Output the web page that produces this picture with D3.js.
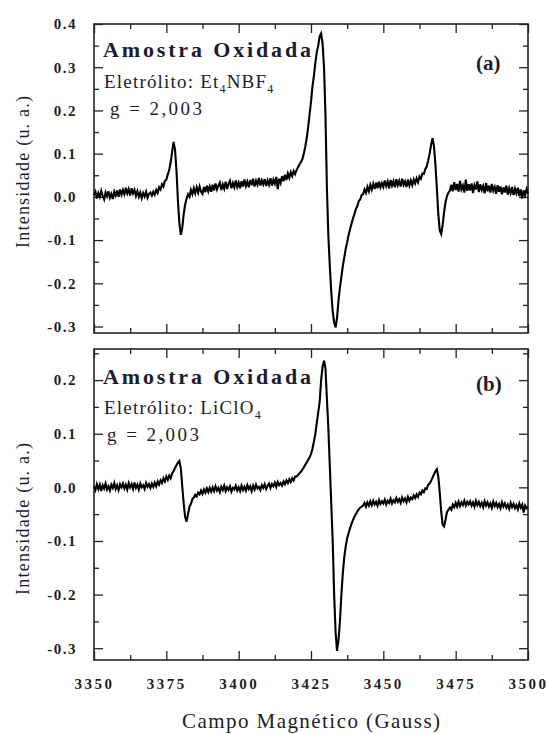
<!DOCTYPE html>
<html>
<head>
<meta charset="utf-8">
<script src="https://cdn.jsdelivr.net/npm/d3@7"></script>
<style>
  body { margin: 0; background: #fff; }
  svg { display: block; }
  svg text { font-family: "Liberation Serif", "Times New Roman", serif !important; fill: #1c1c2c; }
  .tick text { font-weight: bold; font-size: 15px; }
  .domain { display: none; }
  .tick line { stroke: #222; stroke-width: 1.3; }
</style>
</head>
<body>
<svg id="epr" width="547" height="734"></svg>
<script>
var svg = d3.select("#epr");
var left = 94, right = 528;

// Campo magnetico (G), passo de 0.5 G
var field = d3.range(3350, 3500.001, 0.5);

var xTicks = [3350, 3375, 3400, 3425, 3450, 3475, 3500];
var xMinorTicks = [3362.5, 3387.5, 3412.5, 3437.5, 3462.5, 3487.5];

var yTicksA = [-0.3, -0.2, -0.1, 0.0, 0.1, 0.2, 0.3, 0.4];
var yTicksB = [-0.3, -0.2, -0.1, 0.0, 0.1, 0.2];

// (a) Et4NBF4
var intensityA = [
  0.004, 0.012, -0.004, 0.009, 0.000, 0.014, 0.002, -0.006, 0.010, 0.001, 0.013, -0.002, 0.007, -0.005, 0.012, 0.003, 0.015, 0.000, 0.017, 0.005,
  0.016, 0.006, 0.021, 0.008, 0.018, 0.003, 0.020, 0.008, 0.016, 0.002, 0.013, 0.000, 0.010, -0.003, 0.009, 0.001, 0.012, -0.002, 0.007, 0.010,
  0.003, 0.012, 0.005, 0.016, 0.009, 0.022, 0.017, 0.029, 0.024, 0.037, 0.040, 0.052, 0.062, 0.080, 0.104, 0.127, 0.110, 0.062, -0.008, -0.060,
  -0.088, -0.072, -0.040, -0.018, -0.004, 0.006, 0.000, 0.016, 0.006, 0.020, 0.008, 0.022, 0.010, 0.024, 0.012, 0.007, 0.023, 0.011, 0.026, 0.013,
  0.024, 0.012, 0.028, 0.015, 0.031, 0.017, 0.026, 0.033, 0.016, 0.029, 0.019, 0.035, 0.018, 0.030, 0.037, 0.020, 0.032, 0.022, 0.038, 0.023,
  0.033, 0.020, 0.036, 0.024, 0.040, 0.025, 0.035, 0.022, 0.039, 0.027, 0.042, 0.024, 0.037, 0.028, 0.044, 0.026, 0.038, 0.029, 0.041, 0.025,
  0.038, 0.028, 0.043, 0.026, 0.040, 0.031, 0.046, 0.018, 0.042, 0.032, 0.048, 0.036, 0.051, 0.039, 0.054, 0.044, 0.057, 0.048, 0.060, 0.053,
  0.062, 0.068, 0.075, 0.080, 0.087, 0.100, 0.115, 0.135, 0.160, 0.190, 0.220, 0.255, 0.280, 0.310, 0.335, 0.350, 0.372, 0.378, 0.355, 0.300,
  0.190, 0.020, -0.090, -0.160, -0.220, -0.265, -0.290, -0.302, -0.280, -0.240, -0.210, -0.185, -0.160, -0.140, -0.120, -0.105, -0.088, -0.075, -0.062, -0.050,
  -0.040, -0.028, -0.022, -0.010, -0.006, 0.004, 0.006, 0.017, 0.009, 0.023, 0.013, 0.028, 0.017, 0.030, 0.018, 0.033, 0.020, 0.035, 0.022, 0.032,
  0.023, 0.038, 0.025, 0.035, 0.020, 0.039, 0.026, 0.036, 0.022, 0.041, 0.027, 0.037, 0.024, 0.042, 0.028, 0.036, 0.023, 0.040, 0.026, 0.038,
  0.027, 0.040, 0.031, 0.043, 0.034, 0.047, 0.042, 0.054, 0.053, 0.064, 0.070, 0.084, 0.100, 0.120, 0.136, 0.118, 0.075, 0.020, -0.040, -0.078,
  -0.086, -0.065, -0.035, -0.012, 0.002, 0.010, 0.014, 0.028, 0.013, 0.034, 0.016, 0.030, 0.012, 0.037, 0.017, 0.026, 0.010, 0.040, 0.014, 0.029,
  0.015, 0.031, 0.009, 0.027, 0.017, 0.036, 0.011, 0.029, 0.016, 0.025, 0.008, 0.032, 0.013, 0.026, 0.010, 0.030, 0.014, 0.023, 0.007, 0.027,
  0.012, 0.024, 0.006, 0.022, 0.010, 0.026, 0.005, 0.020, 0.009, 0.023, 0.004, 0.019, 0.008, 0.021, 0.002, 0.017, -0.004, 0.015, 0.004, 0.018, 0.008
];

// (b) LiClO4
var intensityB = [
  0.002, -0.005, 0.006, -0.003, 0.005, -0.007, 0.004, -0.002, 0.007, -0.004, 0.002, -0.006, 0.005, -0.001, 0.008, -0.003, 0.004, -0.005, 0.006, 0.000,
  0.007, -0.002, 0.005, -0.004, 0.008, 0.000, 0.006, -0.003, 0.009, -0.001, 0.005, -0.004, 0.007, 0.000, 0.004, -0.003, 0.008, 0.001, 0.006, -0.001,
  0.007, 0.001, 0.009, 0.002, 0.011, 0.005, 0.013, 0.008, 0.017, 0.011, 0.020, 0.014, 0.022, 0.017, 0.026, 0.030, 0.036, 0.041, 0.046, 0.049,
  0.036, 0.002, -0.030, -0.055, -0.064, -0.050, -0.036, -0.031, -0.022, -0.019, -0.014, -0.017, -0.010, -0.013, -0.006, -0.012, -0.004, -0.010, -0.002, -0.009,
  -0.001, -0.008, 0.000, -0.007, 0.002, -0.006, -0.001, -0.009, 0.001, -0.005, 0.003, -0.007, 0.000, -0.005, 0.002, -0.008, -0.001, -0.004, 0.003, -0.006,
  0.000, -0.007, 0.003, -0.005, 0.001, -0.006, 0.004, -0.003, 0.002, -0.007, 0.003, -0.004, 0.005, -0.002, 0.001, -0.005, 0.004, -0.001, 0.006, -0.003,
  0.003, 0.007, -0.001, 0.006, 0.002, 0.009, 0.001, 0.010, 0.004, 0.008, 0.003, 0.011, 0.006, 0.013, 0.008, 0.015, 0.010, 0.017, 0.013, 0.020,
  0.020, 0.023, 0.026, 0.029, 0.033, 0.037, 0.042, 0.046, 0.051, 0.056, 0.062, 0.072, 0.085, 0.100, 0.120, 0.140, 0.160, 0.200, 0.225, 0.236,
  0.222, 0.165, 0.110, 0.040, -0.030, -0.100, -0.200, -0.270, -0.305, -0.285, -0.250, -0.200, -0.160, -0.130, -0.110, -0.095, -0.085, -0.076, -0.068, -0.061,
  -0.055, -0.050, -0.045, -0.041, -0.038, -0.036, -0.034, -0.029, -0.036, -0.028, -0.034, -0.026, -0.033, -0.025, -0.032, -0.027, -0.034, -0.024, -0.031, -0.026,
  -0.030, -0.023, -0.032, -0.025, -0.029, -0.021, -0.030, -0.024, -0.028, -0.020, -0.027, -0.022, -0.029, -0.019, -0.026, -0.021, -0.028, -0.018, -0.025, -0.019,
  -0.022, -0.015, -0.020, -0.013, -0.018, -0.010, -0.013, -0.006, -0.009, -0.002, -0.003, 0.005, 0.007, 0.012, 0.018, 0.024, 0.030, 0.034, 0.020, -0.010,
  -0.045, -0.070, -0.073, -0.060, -0.046, -0.042, -0.038, -0.042, -0.032, -0.037, -0.029, -0.036, -0.027, -0.035, -0.028, -0.033, -0.025, -0.034, -0.027, -0.032,
  -0.026, -0.034, -0.028, -0.036, -0.025, -0.033, -0.027, -0.035, -0.029, -0.037, -0.026, -0.034, -0.028, -0.036, -0.030, -0.038, -0.027, -0.035, -0.029, -0.037,
  -0.031, -0.039, -0.028, -0.036, -0.030, -0.038, -0.032, -0.040, -0.029, -0.037, -0.031, -0.039, -0.033, -0.041, -0.030, -0.038, -0.032, -0.047, -0.034, -0.039, -0.036
];

var xScale = d3.scaleLinear().domain([3350, 3500]).range([left, right]);

function yMinor(ticks){
  var m = [];
  for(var i = 0; i < ticks.length - 1; i++){
    m.push((ticks[i] + ticks[i+1]) / 2);
  }
  return m;
}

function drawPanel(opts){
  var top = opts.top, bottom = opts.bottom;
  var yScale = d3.scaleLinear().domain(opts.domain).range([bottom, top]);
  var fmt = function(d){ return d.toFixed(1); };

  // y major, left (labels) and right
  svg.append("g")
    .attr("transform", "translate(" + left + ",0)")
    .call(d3.axisLeft(yScale).tickValues(opts.yTicks).tickSize(-9).tickPadding(17).tickFormat(fmt))
    .selectAll(".tick text").attr("letter-spacing", "1.5");

  svg.append("g")
    .attr("transform", "translate(" + left + ",0)")
    .call(d3.axisLeft(yScale).tickValues(opts.yMinor).tickSize(-5).tickFormat(""));

  svg.append("g")
    .attr("transform", "translate(" + right + ",0)")
    .call(d3.axisRight(yScale).tickValues(opts.yTicks.filter(function(d){ return d <= opts.domain[1]; })).tickSize(-9).tickFormat(""));

  svg.append("g")
    .attr("transform", "translate(" + right + ",0)")
    .call(d3.axisRight(yScale).tickValues(opts.yMinor).tickSize(-5).tickFormat(""));

  // x top/bottom ticks
  var xb = svg.append("g")
    .attr("transform", "translate(0," + bottom + ")")
    .call(d3.axisBottom(xScale).tickValues(xTicks).tickSize(-9).tickPadding(18)
      .tickFormat(opts.xLabels ? d3.format("d") : ""));
  xb.selectAll(".tick text").attr("letter-spacing", "2.5");

  svg.append("g")
    .attr("transform", "translate(0," + bottom + ")")
    .call(d3.axisBottom(xScale).tickValues(xMinorTicks).tickSize(-5).tickFormat(""));

  svg.append("g")
    .attr("transform", "translate(0," + top + ")")
    .call(d3.axisTop(xScale).tickValues(xTicks).tickSize(-9).tickFormat(""));

  svg.append("g")
    .attr("transform", "translate(0," + top + ")")
    .call(d3.axisTop(xScale).tickValues(xMinorTicks).tickSize(-5).tickFormat(""));

  // frame
  svg.append("rect")
    .attr("x", left)
    .attr("y", top)
    .attr("width", right - left)
    .attr("height", bottom - top)
    .attr("fill", "none")
    .attr("stroke", "#222")
    .attr("stroke-width", 1.6);

  var line = d3.line()
    .x(function(d, i){ return xScale(field[i]); })
    .y(function(d){ return yScale(d); });

  svg.append("path")
    .datum(opts.values)
    .attr("d", line)
    .attr("fill", "none")
    .attr("stroke", "#000")
    .attr("stroke-width", 2.1)
    .attr("stroke-linejoin", "miter");

  // labels
  svg.append("text")
    .attr("x", 103)
    .attr("y", opts.textY[0])
    .attr("font-size", 22)
    .attr("font-weight", "bold")
    .attr("textLength", 208)
    .attr("lengthAdjust", "spacing")
    .text("Amostra Oxidada");

  var el = svg.append("text")
    .attr("x", 104)
    .attr("y", opts.textY[1])
    .attr("font-size", 19)
    .attr("letter-spacing", "1.2");
  opts.electrolyte.forEach(function(p){
    el.append("tspan")
      .attr("font-size", p.sub ? 12 : 19)
      .attr("dy", p.sub ? 5 : (p.after ? -5 : 0))
      .text(p.t);
  });

  svg.append("text")
    .attr("x", opts.gX)
    .attr("y", opts.textY[2])
    .attr("font-size", 19)
    .attr("textLength", 92)
    .attr("lengthAdjust", "spacing")
    .text("g = 2,003");

  svg.append("text")
    .attr("x", 476)
    .attr("y", opts.tagY)
    .attr("font-size", 21)
    .attr("font-weight", "bold")
    .text(opts.tag);

  // y title
  svg.append("text")
    .attr("transform", "translate(29," + opts.titleY + ") rotate(-90)")
    .attr("text-anchor", "middle")
    .attr("font-size", 18)
    .attr("textLength", 152)
    .attr("lengthAdjust", "spacing")
    .text("Intensidade (u. a.)");
}

drawPanel({
  top: 24, bottom: 333, domain: [-0.315, 0.4],
  yTicks: yTicksA, yMinor: yMinor(yTicksA),
  values: intensityA, xLabels: false,
  textY: [57, 88, 115], gX: 110,
  electrolyte: [{t: "Eletrólito: Et"}, {t: "4", sub: true}, {t: "NBF", after: true}, {t: "4", sub: true}],
  tag: "(a)", tagY: 70, titleY: 172
});

drawPanel({
  top: 349, bottom: 660, domain: [-0.322, 0.258],
  yTicks: yTicksB, yMinor: yMinor(yTicksB).concat([0.25]),
  values: intensityB, xLabels: true,
  textY: [384, 414, 441], gX: 107,
  electrolyte: [{t: "Eletrólito: LiClO"}, {t: "4", sub: true}],
  tag: "(b)", tagY: 391, titleY: 519
});

svg.append("text")
  .attr("x", (left + right) / 2)
  .attr("y", 728)
  .attr("text-anchor", "middle")
  .attr("font-size", 21)
  .attr("textLength", 258)
  .attr("lengthAdjust", "spacing")
  .text("Campo Magnético (Gauss)");
</script>
</body>
</html>
